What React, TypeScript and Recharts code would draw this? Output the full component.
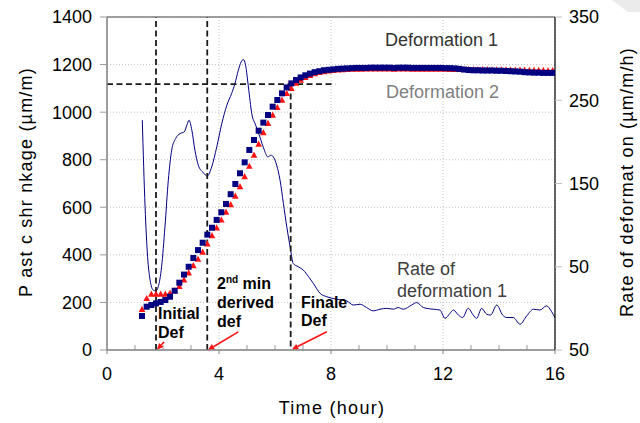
import React from 'react';
import {
  ComposedChart,
  XAxis,
  YAxis,
  CartesianGrid,
  Scatter,
  Line,
  ReferenceLine,
} from 'recharts';

// Readings every 10 minutes (elapsed minutes)
const sampleMinutes = [
  75, 85, 95, 105, 115, 125, 135, 145, 155, 165,
  175, 185, 195, 205, 215, 225, 235, 245, 255, 265,
  275, 285, 295, 305, 315, 325, 335, 345, 355, 365,
  375, 385, 395, 405, 415, 425, 435, 445, 455, 465,
  475, 485, 495, 505, 515, 525, 535, 545, 555, 565,
  575, 585, 595, 605, 615, 625, 635, 645, 655, 665,
  675, 685, 695, 705, 715, 725, 735, 745, 755, 765,
  775, 785, 795, 805, 815, 825, 835, 845, 855, 865,
  875, 885, 895, 905, 915, 925, 935, 945, 955,
];

// Plastic shrinkage, µm/m
const deformation1 = [
  143, 182, 189, 196, 202, 210, 224, 249, 283, 317,
  350, 387, 420, 451, 485, 514, 547, 579, 614, 655,
  698, 743, 789, 841, 883, 922, 956, 988, 1023, 1051,
  1079, 1104, 1121, 1135, 1146, 1155, 1162, 1168, 1172, 1176,
  1178, 1180, 1182, 1183, 1184, 1185, 1186, 1186, 1186, 1187,
  1187, 1187, 1187, 1187, 1186, 1187, 1187, 1187, 1186, 1186,
  1186, 1186, 1186, 1186, 1186, 1185, 1185, 1184, 1182, 1179,
  1177, 1176, 1176, 1175, 1175, 1175, 1174, 1174, 1173, 1172,
  1171, 1170, 1168, 1167, 1166, 1166, 1165, 1165, 1165,
];

const deformation2 = [
  171, 217, 235, 235, 235, 235, 240, 250, 268, 295,
  325, 355, 382, 412, 447, 481, 514, 547, 580, 612,
  647, 687, 729, 773, 820, 866, 914, 953, 988, 1020,
  1051, 1079, 1100, 1122, 1135, 1146, 1155, 1162, 1167, 1171,
  1174, 1176, 1178, 1179, 1180, 1181, 1181, 1181, 1182, 1182,
  1182, 1182, 1182, 1182, 1181, 1182, 1182, 1182, 1181, 1181,
  1181, 1181, 1181, 1181, 1181, 1181, 1180, 1180, 1180, 1180,
  1180, 1179, 1179, 1179, 1179, 1178, 1178, 1178, 1178, 1177,
  1177, 1177, 1177, 1176, 1176, 1176, 1176, 1175, 1175,
];

// Rate of deformation 1, µm/m/h
const rateHours = [
  1.26, 1.36, 1.45, 1.54, 1.65, 1.74, 1.83, 1.95, 2.07, 2.19,
  2.31, 2.45, 2.61, 2.76, 2.85, 2.93, 3.03, 3.14, 3.26, 3.44,
  3.58, 3.74, 3.92, 4.1, 4.28, 4.45, 4.57, 4.69, 4.79, 4.87,
  4.95, 5.05, 5.17, 5.31, 5.46, 5.62, 5.74, 5.86, 5.94, 6.06,
  6.18, 6.3, 6.42, 6.54, 6.65, 6.83, 7.01, 7.2, 7.37, 7.61,
  7.85, 8.2, 8.56, 8.8, 9.04, 9.27, 9.51, 9.75, 9.99, 10.23,
  10.4, 10.58, 10.88, 11.06, 11.3, 11.65, 11.89, 12.07, 12.25, 12.37,
  12.55, 12.7, 12.9, 13.08, 13.2, 13.38, 13.56, 13.7, 13.92, 14.13,
  14.28, 14.51, 14.75, 14.99, 15.23, 15.46, 15.7, 15.88, 16.0,
];
const rateValues = [
  226, 122, 62, 34, 22, 21, 26, 50, 98, 154,
  190, 204, 210, 212, 220, 226, 214, 190, 172, 163,
  159, 170, 194, 222, 244, 258, 270, 286, 296, 299,
  292, 266, 234, 220, 206, 190, 182, 184, 182, 172,
  154, 126, 98, 74, 54, 50, 46, 38, 30, 18,
  14, 11, 9, 4, 5, 1, -3, -1, 0, -1,
  1, -1, 4, 7, 1, -1, -2, -12, -6, -2,
  -8, -11, 0, -8, -12, 0, -7, -8, 4, -8,
  -11, -11, -19, -9, -1, -2, 3, -4, -11,
];

const xTicks = [0, 4, 8, 12, 16];
const minorHourTicks = [1, 2, 3, 5, 6, 7, 9, 10, 11, 13, 14, 15];
const shrinkageTicks = [0, 200, 400, 600, 800, 1000, 1200, 1400];
const rateTicks = [-50, 50, 150, 250, 350];

// Marked instants (hours) and the final deformation level (µm/m)
const initialDefHour = 1.75;
const secondMinHour = 3.58;
const finalDefHour = 6.56;
const finalDefLevel = 1118;
const finalDefLevelEnd = 8.15;

// Pointer arrows: [fromHour, fromValue, toHour, toValue]
const pointerArrows = [
  [2.04, 34, 1.78, 1],
  [4.69, 76, 3.6, 0],
  [7.85, 77, 6.6, 2],
];

const def1Data = sampleMinutes.map((m, i) => ({ t: m / 60, v: deformation1[i] }));
const def2Data = sampleMinutes.map((m, i) => ({ t: m / 60, v: deformation2[i] }));
const rateData = rateHours.map((h, i) => ({ t: h, rate: rateValues[i] }));

const FONT = '"Liberation Sans", Arial, Helvetica, sans-serif';
const NAVY = '#000080';
const RED = '#ff1414';

const SquareMark = (p: any) => {
  if (p.cx == null || p.cy == null) return <g />;
  return <rect x={p.cx - 3} y={p.cy - 3} width={6} height={6} fill={NAVY} />;
};

const TriangleMark = (p: any) => {
  if (p.cx == null || p.cy == null) return <g />;
  const { cx, cy } = p;
  return (
    <polygon
      points={`${cx},${cy - 3.5} ${cx - 3.3},${cy + 2.7} ${cx + 3.3},${cy + 2.7}`}
      fill={RED}
    />
  );
};

// Short inward tick at the foot of the plot for each minor hour
const MinorTick = (p: any) => {
  const { x1, y1 } = p;
  if (x1 == null || y1 == null || isNaN(x1)) return <g />;
  return <line x1={x1} y1={y1} x2={x1} y2={y1 - 5} stroke="#9a9a9a" strokeWidth={1} />;
};

const ArrowShape = (p: any) => {
  const { x1, y1, x2, y2 } = p;
  if ([x1, y1, x2, y2].some((v) => v == null || isNaN(v))) return <g />;
  const ang = Math.atan2(y2 - y1, x2 - x1);
  const len = 6.5;
  const half = 3;
  const bx = x2 - len * Math.cos(ang);
  const by = y2 - len * Math.sin(ang);
  const px = -Math.sin(ang) * half;
  const py = Math.cos(ang) * half;
  return (
    <g>
      <line x1={x1} y1={y1} x2={bx} y2={by} stroke={RED} strokeWidth={1.6} />
      <polygon points={`${x2},${y2} ${bx + px},${by + py} ${bx - px},${by - py}`} fill={RED} />
    </g>
  );
};

const dashStyle = { stroke: '#1a1a1a', strokeWidth: 1.8, strokeDasharray: '6 3.5' };

export default function App() {
  return (
    <div style={{ position: 'absolute', left: 0, top: 0, width: 640, height: 423, background: '#fff' }}>
      <ComposedChart
        width={640}
        height={423}
        margin={{ top: 17, right: 0, bottom: 0, left: 0 }}
        style={{ fontFamily: FONT }}
      >
        <CartesianGrid yAxisId="left" stroke="#c4c4c4" strokeDasharray="1 2" strokeWidth={1} />
        <XAxis
          dataKey="t"
          type="number"
          domain={[0, 16]}
          ticks={xTicks}
          allowDataOverflow
          height={73}
          tickSize={4}
          tickMargin={13}
          axisLine={{ stroke: '#808080', strokeWidth: 1.5 }}
          tickLine={{ stroke: '#808080' }}
          tick={{ fontSize: 18, fill: '#000', fontFamily: FONT }}
        />
        <YAxis
          yAxisId="left"
          domain={[0, 1400]}
          ticks={shrinkageTicks}
          allowDataOverflow
          width={107}
          tickSize={7}
          tickMargin={8}
          axisLine={{ stroke: '#808080', strokeWidth: 1.5 }}
          tickLine={{ stroke: '#9a9a9a' }}
          tick={{ fontSize: 18, fill: '#000', fontFamily: FONT }}
        />
        <YAxis
          yAxisId="right"
          orientation="right"
          domain={[-50, 350]}
          ticks={rateTicks}
          allowDataOverflow
          width={85}
          tickSize={7}
          tickMargin={7}
          tickFormatter={(v: number) => String(Math.abs(v))}
          axisLine={{ stroke: '#000', strokeWidth: 1.2 }}
          tickLine={{ stroke: '#c0c0c0' }}
          tick={{ fontSize: 18, fill: '#000', fontFamily: FONT, textAnchor: 'start' }}
        />
        <ReferenceLine yAxisId="left" y={1400} stroke="#808080" strokeWidth={1.5} />
        {minorHourTicks.map((h) => (
          <ReferenceLine
            key={`m${h}`}
            yAxisId="left"
            segment={[{ x: h, y: 0 }, { x: h, y: 0 }]}
            shape={MinorTick}
          />
        ))}

        <Line
          yAxisId="right"
          data={rateData}
          dataKey="rate"
          type="monotone"
          stroke={NAVY}
          strokeWidth={1}
          dot={false}
          activeDot={false}
          isAnimationActive={false}
        />
        <Scatter
          yAxisId="left"
          data={def2Data}
          dataKey="v"
          shape={TriangleMark}
          isAnimationActive={false}
        />
        <Scatter
          yAxisId="left"
          data={def1Data}
          dataKey="v"
          shape={SquareMark}
          isAnimationActive={false}
        />

        <ReferenceLine yAxisId="left" x={initialDefHour} {...dashStyle} />
        <ReferenceLine yAxisId="left" x={secondMinHour} {...dashStyle} />
        <ReferenceLine
          yAxisId="left"
          segment={[{ x: finalDefHour, y: finalDefLevel }, { x: finalDefHour, y: 0 }]}
          {...dashStyle}
        />
        <ReferenceLine
          yAxisId="left"
          segment={[{ x: 0, y: finalDefLevel }, { x: finalDefLevelEnd, y: finalDefLevel }]}
          {...dashStyle}
        />
        {pointerArrows.map((a, i) => (
          <ReferenceLine
            key={i}
            yAxisId="left"
            segment={[{ x: a[0], y: a[1] }, { x: a[2], y: a[3] }]}
            shape={ArrowShape}
          />
        ))}
      </ComposedChart>

      <svg
        width={640}
        height={423}
        style={{ position: 'absolute', left: 0, top: 0, pointerEvents: 'none', fontFamily: FONT }}
      >
        <polygon points="612,0 640,0 640,12 628,12" fill="#ebebeb" />

        <text x={31.5} y={182} transform="rotate(-90 31.5 182)" textAnchor="middle" fontSize={18} letterSpacing={1.2} fill="#000">
          P ast c shr nkage (µm/m)
        </text>
        <text x={633} y={182} transform="rotate(-90 633 182)" textAnchor="middle" fontSize={18} letterSpacing={1.2} fill="#000">
          Rate of deformat on (µm/m/h)
        </text>
        <text x={332} y={414} textAnchor="middle" fontSize={18} letterSpacing={1.3} fill="#000">
          Time (hour)
        </text>

        <text x={385} y={46} fontSize={18} fill="#333">Deformation 1</text>
        <text x={386} y={98} fontSize={18} fill="#7f7f7f">Deformation 2</text>
        <text x={397} y={275} fontSize={18} fill="#404040">Rate of</text>
        <text x={397} y={297} fontSize={18} fill="#404040">deformation 1</text>

        <g fontWeight="bold" fontSize={16} fill="#000">
          <text x={158} y={319}>Initial</text>
          <text x={158} y={338}>Def</text>
          <text x={217} y={289}>
            2<tspan fontSize={10} dy={-6}>nd</tspan>
            <tspan dy={6}> min</tspan>
          </text>
          <text x={217} y={308}>derived</text>
          <text x={217} y={327}>def</text>
          <text x={301} y={308}>Finale</text>
          <text x={301} y={326}>Def</text>
        </g>
      </svg>
    </div>
  );
}
